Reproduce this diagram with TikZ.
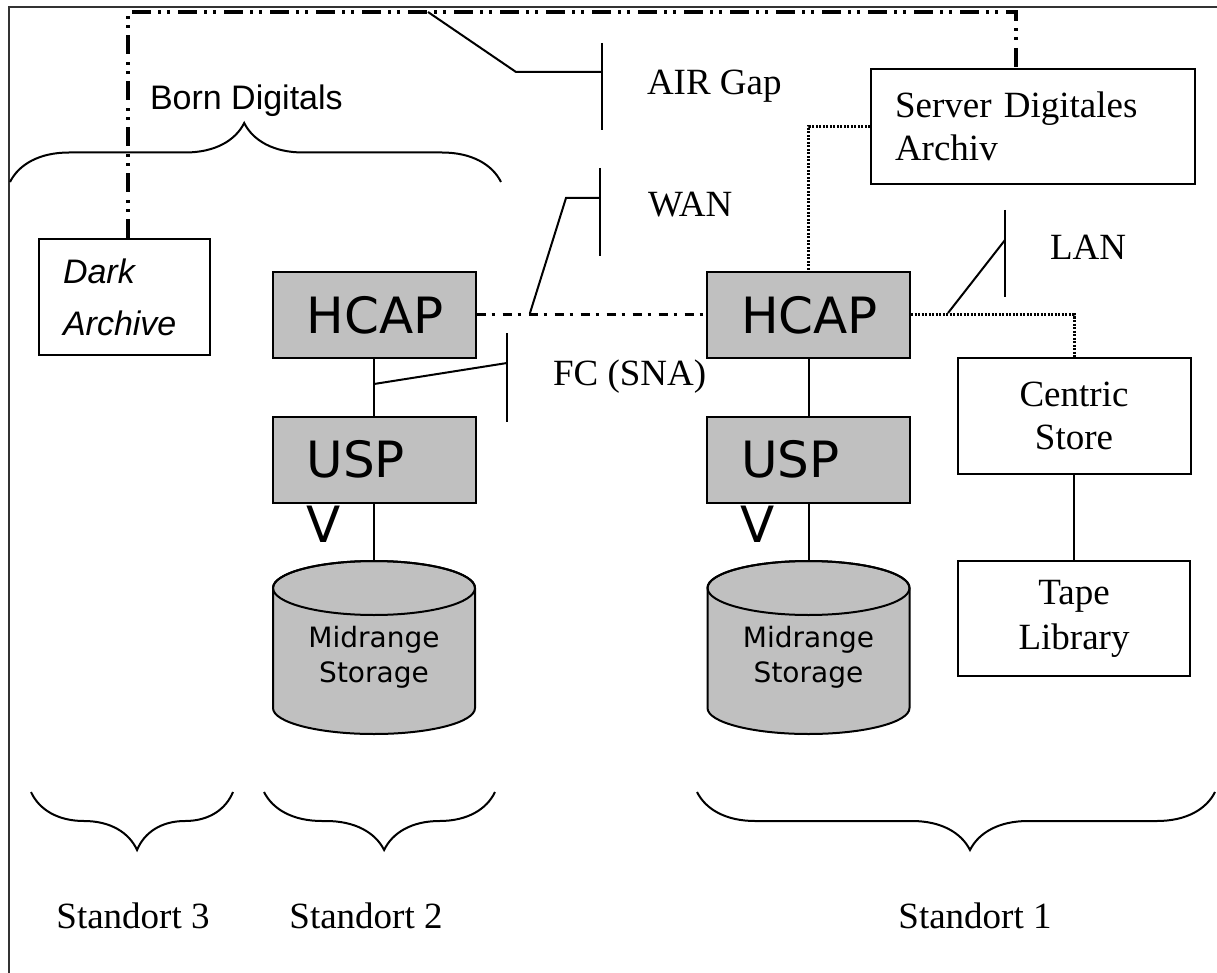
\documentclass[tikz,border=0pt]{standalone}
\usepackage{fontspec}
\usetikzlibrary{decorations.pathreplacing}
\newfontfamily\timesf{Liberation Serif}
\newfontfamily\arialf{Liberation Sans}
\newfontfamily\veraf{DejaVu Sans}
\definecolor{boxgrey}{RGB}{192,192,192}
% storage drum, centred at x = #1
\newcommand{\drum}[1]{%
  \draw[fill=boxgrey] ({#1-101},-588) -- ({#1-101},-708)
    arc[start angle=180,end angle=360,x radius=101,y radius=26] -- ({#1+101},-588)
    arc[start angle=0,end angle=180,x radius=101,y radius=27] -- cycle;
  \draw ({#1},-588) ellipse[x radius=101,y radius=27];}

\begin{document}
\begin{tikzpicture}[x=1pt,y=1pt,line width=2pt,
    grey/.style={draw,fill=boxgrey,minimum width=203pt,minimum height=86pt,inner xsep=34pt,text width=135pt,align=left,font=\veraf\fontsize{50}{60}\selectfont},
    wbox/.style={draw,align=center,font=\timesf\fontsize{37}{45}\selectfont},
    store/.style={align=center,inner sep=0pt,font=\veraf\fontsize{28}{35}\selectfont},
    tag/.style={anchor=base west,inner sep=0pt,font=\timesf\fontsize{37}{44}\selectfont},
    site/.style={anchor=base,inner sep=0pt,font=\timesf\fontsize{37}{44}\selectfont},
    vee/.style={anchor=base west,inner sep=0pt,font=\veraf\fontsize{50}{60}\selectfont},
    airgap/.style={line width=3.5pt,dash pattern=on 19pt off 7pt on 3pt off 6pt on 3pt off 8pt},
    wanline/.style={line width=3pt,dash pattern=on 9pt off 6pt on 3pt off 8pt},
    lanline/.style={line width=3pt,dash pattern=on 2pt off 1.5pt},
    bracket/.style={decorate,decoration={brace,amplitude=58pt,#1}}]
  \useasboundingbox (0,0) rectangle (1217,-973);
  \draw[line width=1.5pt,black!80] (9,-973) -- (9,-7) -- (1217,-7); % frame
  % Standort 2
  \node[grey] (hcap2) at (374,-315) {HCAP};
  \node[grey] (usp2) at (374,-459.5) {USP};
  \node[vee] (v2) at (305,-542) {V};
  \drum{374}
  \node[store] (store2) at (374,-657) {Midrange\\Storage};
  \coordinate (top2) at (374,-561);
  % Standort 1
  \node[grey] (hcap1) at (808.5,-315) {HCAP};
  \node[grey] (usp1) at (808.5,-459.5) {USP};
  \node[vee] (v1) at (739,-542) {V};
  \drum{808.5}
  \node[store] (store1) at (808.5,-657) {Midrange\\Storage};
  \coordinate (top1) at (808.5,-561);
  \node[wbox,minimum width=324pt,minimum height=115pt,inner xsep=24pt,text width=276pt,align=left,font=\timesf\fontsize{37}{43}\selectfont] (server) at (1033,-126.5) {Server Digitales\\Archiv};
  \node[wbox,minimum width=233pt,minimum height=116pt,font=\timesf\fontsize{37}{43}\selectfont] (centric) at (1074,-416) {Centric\\Store};
  \node[wbox,minimum width=232pt,minimum height=115pt] (tape) at (1074,-618.5) {\raisebox{-6pt}{Tape}\\\raisebox{-6pt}{Library}};
  % Standort 3
  \node[wbox,minimum width=171pt,minimum height=116pt,inner xsep=24pt,text width=123pt,align=left,font=\arialf\itshape\fontsize{34}{52}\selectfont] (dark) at (124.5,-297) {Dark\\Archive};
  % lines
  \draw (hcap2) -- (usp2);
  \draw (usp2) -- (top2);
  \draw (hcap1) -- (usp1);
  \draw (usp1) -- (top1);
  \draw (centric) -- (tape);
  \draw[wanline] (hcap2) -- (hcap1); % WAN
  \draw[lanline] (server.west) -| (hcap1.north); % LAN
  \draw[lanline] (hcap1.east) -| (centric.north);
  \coordinate (agl) at (128,-12);
  \coordinate (agr) at (1016,-12);
  \draw[airgap] (agl |- dark.north) -- (agl) -- (agr) -- (agr |- server.north); % air gap
  % markers
  \draw (428,-12) -- (516,-72) -- (602,-72);
  \draw (602,-43) -- (602,-130);
  \node[tag] (lair) at (646,-95) {AIR Gap};
  \draw (530,-313) -- (566,-198) -- (600,-198);
  \draw (600,-168) -- (600,-256);
  \node[tag] (lwan) at (647,-217) {WAN};
  \draw (948,-313) -- (1005,-240);
  \draw (1005,-210) -- (1005,-297);
  \node[tag] (llan) at (1049,-260) {LAN};
  \draw (374,-384) -- (507,-363);
  \draw (507,-333) -- (507,-422);
  \node[tag] (lfc) at (552,-385) {FC (SNA)};
  % braces
  \draw[bracket={amplitude=59pt,aspect=0.477}] (10,-182) -- (501,-182);
  \node[anchor=base west,inner sep=0pt,font=\arialf\fontsize{34}{40}\selectfont] (born) at (149,-110) {Born Digitals};
  \draw[bracket={aspect=0.475}] (233,-792) -- (31,-792);
  \draw[bracket={aspect=0.48}] (495,-792) -- (264,-792);
  \draw[bracket={aspect=0.473}] (1215,-792) -- (697,-792);
  \node[site] (s3) at (133,-928) {Standort 3};
  \node[site] (s2) at (366,-928) {Standort 2};
  \node[site] (s1) at (975,-928) {Standort 1};
\end{tikzpicture}
\end{document}
